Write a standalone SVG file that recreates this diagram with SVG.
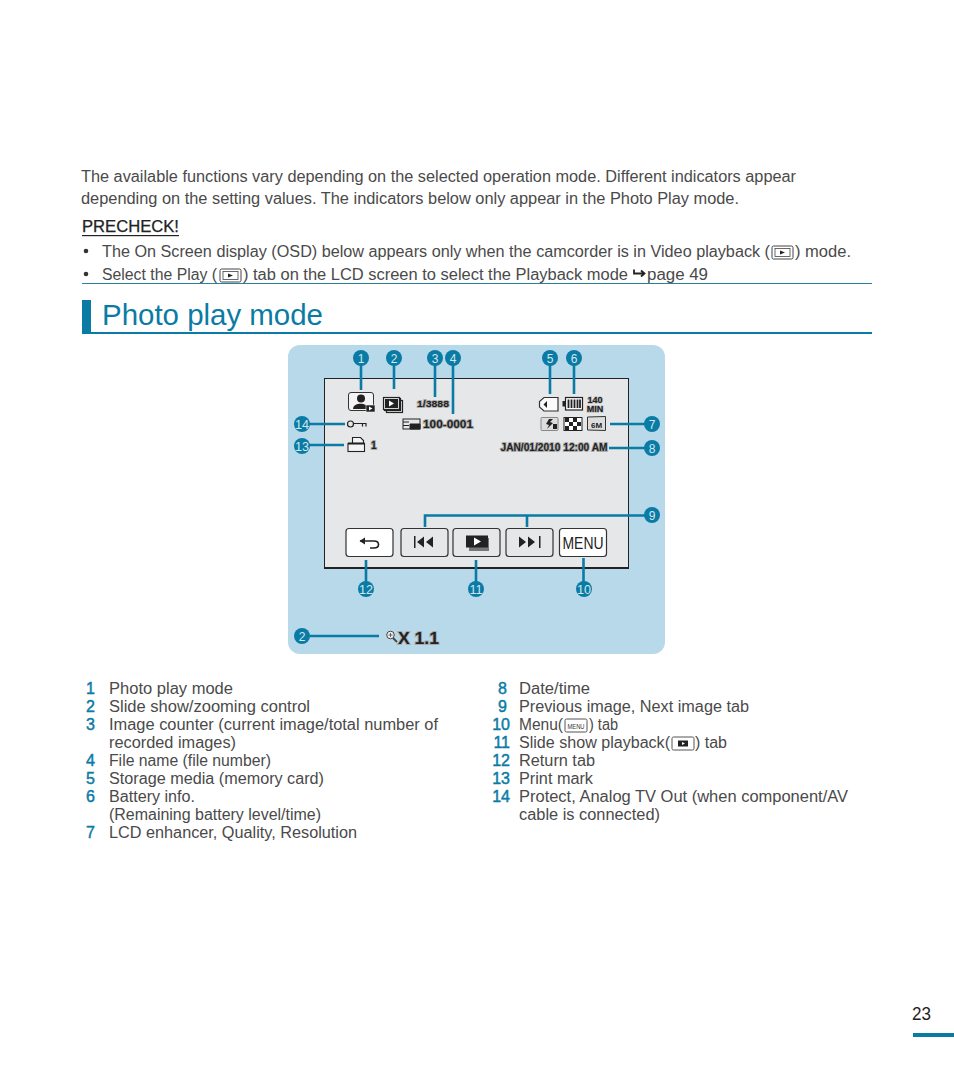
<svg xmlns="http://www.w3.org/2000/svg" width="954" height="1091" viewBox="0 0 954 1091">
<style>
text{font-family:"Liberation Sans",Arial,sans-serif}
.b{font-size:16px;fill:#4a4a4a}
.n{font-size:16px;fill:#0a7ba5;text-anchor:end;stroke:#0a7ba5;stroke-width:.45px}
.c{font-size:12px;fill:#d5e6ee;text-anchor:middle}
.dot{fill:#0a7ba5}
.ln{stroke:#0a7ba5;stroke-width:2.6;fill:none}
.o{font-weight:700;fill:#222;stroke:#aaa;stroke-width:1.8px;paint-order:stroke}
.ic{fill:none;stroke:#222;stroke-width:1.2}
.k{fill:#222}
.btn{stroke:#333;stroke-width:1.2}
</style>
<rect width="954" height="1091" fill="#fff"/>
<g id="intro">
<text class="b" x="81" y="182" textLength="715" lengthAdjust="spacingAndGlyphs">The available functions vary depending on the selected operation mode. Different indicators appear</text>
<text class="b" x="81" y="204" textLength="658" lengthAdjust="spacingAndGlyphs">depending on the setting values. The indicators below only appear in the Photo Play mode.</text>
<text x="82" y="232" font-size="16" fill="#222" textLength="97" lengthAdjust="spacingAndGlyphs" style="stroke:#222;stroke-width:.25px">PRECHECK!</text>
<rect x="82" y="235" width="97" height="1.2" fill="#222"/>
<circle cx="86" cy="251" r="2.3" fill="#333"/>
<circle cx="86" cy="274" r="2.3" fill="#333"/>
<text class="b" x="102" y="257" textLength="668" lengthAdjust="spacingAndGlyphs">The On Screen display (OSD) below appears only when the camcorder is in Video playback (</text>
<rect x="772" y="246" width="21" height="13" rx="1.5" fill="#fff" stroke="#444"/><rect x="775" y="248.500" width="15" height="8" fill="none" stroke="#444" stroke-width=".8"/><path d="M780 250.500l5 2-5 2z" fill="#222"/>
<text class="b" x="795" y="257" textLength="56" lengthAdjust="spacingAndGlyphs">) mode.</text>
<text class="b" x="102" y="280" textLength="115" lengthAdjust="spacingAndGlyphs">Select the Play (</text>
<rect x="220" y="269" width="21" height="13" rx="1.5" fill="#fff" stroke="#444"/><rect x="223" y="271.500" width="15" height="8" fill="none" stroke="#444" stroke-width=".8"/><path d="M228 273.500l5 2-5 2z" fill="#222"/>
<text class="b" x="243" y="280" textLength="385" lengthAdjust="spacingAndGlyphs">) tab on the LCD screen to select the Playback mode</text>
<path d="M634 269.500v4h10m-3-3l3.500 3-3.500 3" fill="none" stroke="#222" stroke-width="1.8"/>
<text class="b" x="647" y="280" textLength="61" lengthAdjust="spacingAndGlyphs">page 49</text>
<rect x="82" y="283" width="790" height="1" fill="#2b7f9f"/>
</g>
<g id="heading">
<rect x="82" y="300" width="9" height="33" fill="#0a7ba5"/>
<rect x="82" y="332" width="790" height="2" fill="#0a7ba5"/>
<text x="102" y="325" font-size="29" fill="#0a7ba5" textLength="221" lengthAdjust="spacingAndGlyphs">Photo play mode</text>
</g>
<g id="panel">
<rect x="288" y="345" width="377" height="309" rx="12" fill="#b8d9ea"/>
<rect x="324.500" y="378.500" width="304" height="190" fill="#e6e7e8" stroke="#222" stroke-width="1"/>
<rect x="324" y="567" width="305" height="2" fill="#222"/>
</g>
<g id="connectors">
<path class="ln" d="M361 358V390M394 358V389M435 358V397M453 358V414M550 358V394M574 358V394M610 424H652M609 448H652M425 527V515.500H652M527 515.500V527M583.500 558V589M476 560V589M366 560V589M302 445H344M302 424H345M302 636H379"/>
</g>
<g id="callouts">
<g id="c1"><circle class="dot" cx="361" cy="358" r="8"/><text class="c" x="361" y="362.500">1</text></g>
<g id="c2"><circle class="dot" cx="394" cy="358" r="8"/><text class="c" x="394" y="362.500">2</text></g>
<g id="c3"><circle class="dot" cx="435" cy="358" r="8"/><text class="c" x="435" y="362.500">3</text></g>
<g id="c4"><circle class="dot" cx="453" cy="358" r="8"/><text class="c" x="453" y="362.500">4</text></g>
<g id="c5"><circle class="dot" cx="550" cy="358" r="8"/><text class="c" x="550" y="362.500">5</text></g>
<g id="c6"><circle class="dot" cx="574" cy="358" r="8"/><text class="c" x="574" y="362.500">6</text></g>
<g id="c7"><circle class="dot" cx="652" cy="424" r="8"/><text class="c" x="652" y="428.500">7</text></g>
<g id="c8"><circle class="dot" cx="652" cy="448" r="8"/><text class="c" x="652" y="452.500">8</text></g>
<g id="c9"><circle class="dot" cx="652" cy="515" r="8"/><text class="c" x="652" y="519.500">9</text></g>
<g id="c10"><circle class="dot" cx="584" cy="589" r="8"/><text class="c" x="584" y="593.500" textLength="14" lengthAdjust="spacingAndGlyphs">10</text></g>
<g id="c11"><circle class="dot" cx="476" cy="589" r="8"/><text class="c" x="476" y="593.500" textLength="13" lengthAdjust="spacingAndGlyphs">11</text></g>
<g id="c12"><circle class="dot" cx="366" cy="589" r="8"/><text class="c" x="366" y="593.500" textLength="14" lengthAdjust="spacingAndGlyphs">12</text></g>
<g id="c13"><circle class="dot" cx="302" cy="446" r="8"/><text class="c" x="302" y="450.500" textLength="14" lengthAdjust="spacingAndGlyphs">13</text></g>
<g id="c14"><circle class="dot" cx="302" cy="424" r="8"/><text class="c" x="302" y="428.500" textLength="14" lengthAdjust="spacingAndGlyphs">14</text></g>
<g id="c2b"><circle class="dot" cx="302" cy="636" r="8"/><text class="c" x="302" y="640.500">2</text></g>
</g>
<g id="osd-icons">
<g id="mode-icon"><rect x="348.500" y="392.500" width="25" height="18" rx="2.500" fill="#f4f4f4" stroke="#333"/><circle cx="361" cy="398.500" r="4" class="k"/><path d="M353 409c0-7 15-7 15 0z" class="k"/><rect x="366" y="405" width="9" height="7" fill="#222" stroke="#eee" stroke-width=".6"/><path d="M369 406.500l3.500 2-3.500 2z" fill="#fff"/></g>
<g id="slide-icon"><rect x="386.500" y="400.500" width="16" height="12" class="ic"/><rect x="384.500" y="398.500" width="16" height="12" class="ic" fill="#e6e7e8"/><rect x="383.500" y="397.500" width="16" height="12" fill="#e6e7e8" stroke="#222" stroke-width="1.200"/><rect x="385" y="399" width="13" height="9" class="k"/><path d="M389 400.500l5 3-5 3z" fill="#fff"/></g>
<text class="o" x="417" y="406.500" font-size="9.500" textLength="32" lengthAdjust="spacingAndGlyphs">1/3888</text>
<g id="file-icon"><rect x="403" y="419" width="17" height="10" fill="#e6e7e8" stroke="#222"/><path d="M403 422h6M403 425.500h6M410 424h10v5h-10z" stroke="#222" fill="#222"/></g>
<text class="o" x="423" y="428" font-size="11" textLength="50" lengthAdjust="spacingAndGlyphs">100-0001</text>
<g id="card-icon"><path d="M544 397.500h14v13.500H544l-4.500-4v-5.500z" fill="#fafafa" stroke="#333" stroke-width="1.200"/><path d="M547 401v7l-3.500-3.500z" class="k"/></g>
<g id="battery-icon"><rect x="565.500" y="397.500" width="17" height="12.500" fill="#fafafa" stroke="#222" stroke-width="1.200"/><rect x="562.500" y="401" width="3" height="5.500" class="k"/><path d="M568.500 399.500v8.500M571.500 399.500v8.500M574.500 399.500v8.500M577.500 399.500v8.500M580 399.500v8.500" stroke="#222" stroke-width="1.800"/></g>
<text class="o" x="595" y="403" font-size="9" text-anchor="middle" style="stroke-width:1.200px">140</text>
<text class="o" x="595" y="411.500" font-size="9" text-anchor="middle" style="stroke-width:1.200px">MIN</text>
<g id="lcd-icon"><rect x="541" y="417.500" width="17" height="13" rx="1" fill="#ddd" stroke="#888"/><path d="M549 419l-3 5 3 1-2 4 6-6-3-1 3-3zM553 424h4v5h-4z" class="k"/></g>
<g id="quality-icon"><rect x="564" y="417.500" width="18" height="13" fill="#fff" stroke="#222"/><path d="M565 418h4v4h-4zM573 418h4v4h-4zM569 422h4v4h-4zM577 422h4v4h-4zM565 426h4v4h-4zM573 426h4v4h-4z" class="k"/></g>
<g id="res-icon"><path d="M587.500 417l18-.5v14l-18-.5z" fill="#ddd" stroke="#333"/><text x="596.500" y="427.500" font-size="8" text-anchor="middle" font-weight="700" fill="#222">6M</text></g>
<text class="o" x="500.500" y="451" font-size="10" textLength="107" lengthAdjust="spacingAndGlyphs">JAN/01/2010 12:00 AM</text>
<g id="key-icon"><circle cx="350.500" cy="424" r="3" fill="none" stroke="#222" stroke-width="1.200"/><path d="M353.500 423.500h12.500v3M362.500 424v2.500" fill="none" stroke="#222" stroke-width="1.200"/></g>
<g id="print-icon"><path d="M352.500 443v-5.500h8l3 3v2.500" fill="#f4f4f4" stroke="#222" stroke-width="1.100"/><rect x="348" y="443.500" width="16.500" height="8" fill="#f4f4f4" stroke="#222" stroke-width="1.100"/><path d="M348 442.500h16.500v2H348z" class="k"/></g>
<text class="o" x="371" y="449" font-size="10">1</text>
<g id="zoom-icon"><circle cx="390.500" cy="635" r="3.800" fill="#eee" stroke="#444"/><path d="M393 638l4 4" stroke="#444" stroke-width="1.800"/><path d="M388.500 635h4M390.500 633v4" stroke="#444" stroke-width=".8"/></g>
<text class="o" x="398" y="643.500" font-size="17" textLength="41" lengthAdjust="spacingAndGlyphs" style="stroke-width:1.800px">X 1.1</text>
</g>
<g id="buttons">
<g id="btn-return"><rect class="btn" x="346" y="528.500" width="47" height="28" rx="3" fill="#fff"/><path d="M360 541h14c6 0 6 7 0 7h-4" fill="none" stroke="#222" stroke-width="1.600"/><path d="M359.500 541l5.500-3.500v7z" class="k"/></g>
<g id="btn-prev"><rect class="btn" x="401" y="528.500" width="47" height="28" rx="3" fill="#e6e7e8"/><rect x="414" y="536" width="1.500" height="12" class="k"/><path d="M424 536.500v11l-7-5.500zM433 536.500v11l-7-5.500z" class="k"/></g>
<g id="btn-play"><rect class="btn" x="453" y="528.500" width="47" height="28" rx="3" fill="#e6e7e8"/><rect x="469" y="538" width="20" height="13" fill="#777"/><rect x="466" y="535.500" width="22" height="12" class="k"/><path d="M474 537.500l7 4-7 4z" fill="#fff"/></g>
<g id="btn-next"><rect class="btn" x="506" y="528.500" width="47" height="28" rx="3" fill="#e6e7e8"/><rect x="539" y="536" width="1.500" height="12" class="k"/><path d="M519 536.500v11l7-5.500zM528 536.500v11l7-5.500z" class="k"/></g>
<g id="btn-menu"><rect class="btn" x="559.500" y="528.500" width="47" height="28" rx="3" fill="#fff"/><text x="583" y="549" font-size="17" fill="#222" text-anchor="middle" textLength="41" lengthAdjust="spacingAndGlyphs">MENU</text></g>
</g>
<g id="legend-left">
<text class="n" x="95" y="694">1</text><text class="b" x="109" y="694" textLength="124" lengthAdjust="spacingAndGlyphs">Photo play mode</text>
<text class="n" x="95" y="712">2</text><text class="b" x="109" y="712" textLength="201" lengthAdjust="spacingAndGlyphs">Slide show/zooming control</text>
<text class="n" x="95" y="730">3</text><text class="b" x="109" y="730" textLength="329" lengthAdjust="spacingAndGlyphs">Image counter (current image/total number of</text>
<text class="b" x="109" y="748" textLength="127" lengthAdjust="spacingAndGlyphs">recorded images)</text>
<text class="n" x="95" y="766">4</text><text class="b" x="109" y="766" textLength="162" lengthAdjust="spacingAndGlyphs">File name (file number)</text>
<text class="n" x="95" y="784">5</text><text class="b" x="109" y="784" textLength="215" lengthAdjust="spacingAndGlyphs">Storage media (memory card)</text>
<text class="n" x="95" y="802">6</text><text class="b" x="109" y="802" textLength="86" lengthAdjust="spacingAndGlyphs">Battery info.</text>
<text class="b" x="109" y="820" textLength="212" lengthAdjust="spacingAndGlyphs">(Remaining battery level/time)</text>
<text class="n" x="95" y="838">7</text><text class="b" x="109" y="838" textLength="248" lengthAdjust="spacingAndGlyphs">LCD enhancer, Quality, Resolution</text>
</g>
<g id="legend-right">
<text class="n" x="507" y="694">8</text><text class="b" x="519" y="694" textLength="71" lengthAdjust="spacingAndGlyphs">Date/time</text>
<text class="n" x="507" y="712">9</text><text class="b" x="519" y="712" textLength="230" lengthAdjust="spacingAndGlyphs">Previous image, Next image tab</text>
<text class="n" x="510" y="730">10</text><text class="b" x="519" y="730" textLength="44" lengthAdjust="spacingAndGlyphs">Menu(</text>
<rect x="565" y="719" width="22" height="13" rx="1.500" fill="#fff" stroke="#555"/><text x="576" y="729" font-size="7" fill="#333" text-anchor="middle" textLength="17" lengthAdjust="spacingAndGlyphs">MENU</text>
<text class="b" x="589" y="730" textLength="29" lengthAdjust="spacingAndGlyphs">) tab</text>
<text class="n" x="510" y="748">11</text><text class="b" x="519" y="748" textLength="151" lengthAdjust="spacingAndGlyphs">Slide show playback(</text>
<rect x="672" y="737" width="22" height="13" rx="1.500" fill="#fff" stroke="#555"/><rect x="678" y="740.500" width="10" height="6" fill="#222"/><path d="M682 742l3 1.500-3 1.500z" fill="#fff"/>
<text class="b" x="695" y="748" textLength="32" lengthAdjust="spacingAndGlyphs">) tab</text>
<text class="n" x="510" y="766">12</text><text class="b" x="519" y="766" textLength="76" lengthAdjust="spacingAndGlyphs">Return tab</text>
<text class="n" x="510" y="784">13</text><text class="b" x="519" y="784" textLength="74" lengthAdjust="spacingAndGlyphs">Print mark</text>
<text class="n" x="510" y="802">14</text><text class="b" x="519" y="802" textLength="329" lengthAdjust="spacingAndGlyphs">Protect, Analog TV Out (when component/AV</text>
<text class="b" x="519" y="820" textLength="141" lengthAdjust="spacingAndGlyphs">cable is connected)</text>
</g>
<g id="page">
<text x="931" y="1020" font-size="18" fill="#222" text-anchor="end" textLength="19" lengthAdjust="spacingAndGlyphs">23</text>
<rect x="913" y="1033" width="41" height="4" fill="#0a7ba5"/>
</g>
</svg>
